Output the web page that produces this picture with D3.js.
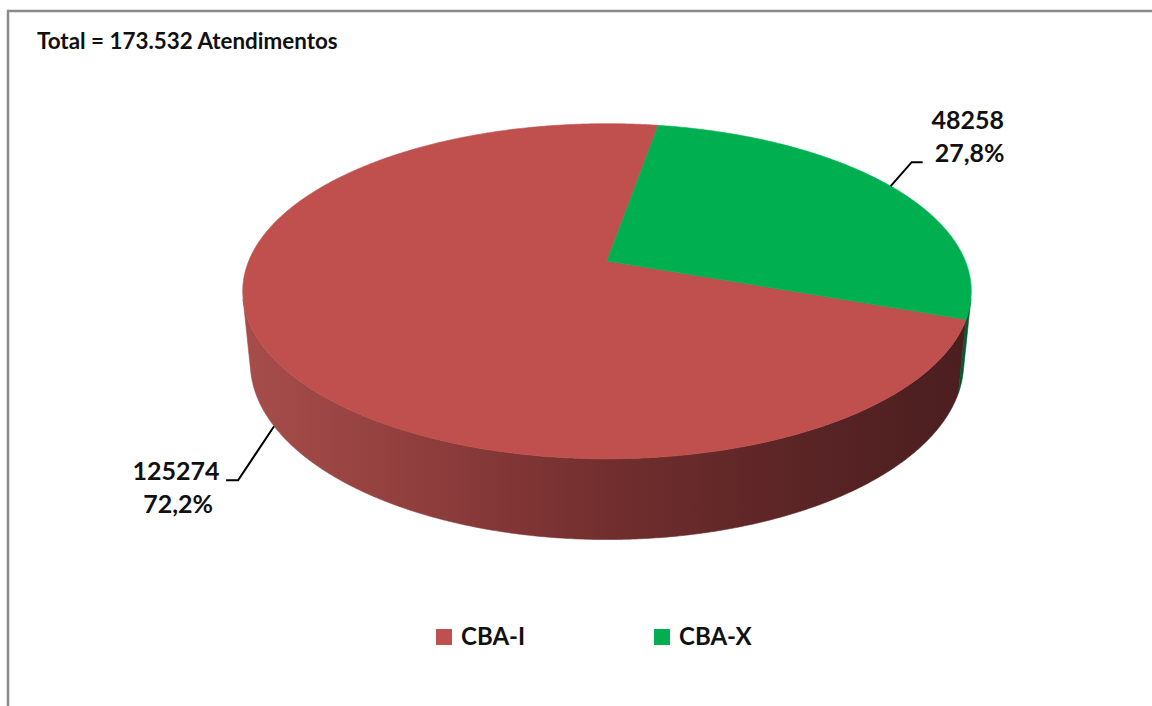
<!DOCTYPE html>
<html>
<head>
<meta charset="utf-8">
<script src="https://cdn.jsdelivr.net/npm/d3@7"></script>
<style>
  html, body { margin: 0; padding: 0; background: #fff; }
  svg { display: block; }
  text { font-family: Lato, "Open Sans", sans-serif; font-weight: bold; fill: #111; }
</style>
</head>
<body>
<svg id="chart" width="1152" height="706"></svg>
<script>
// Attendance totals per unit
const categories = ["CBA-I", "CBA-X"];
const values = [125274, 48258];
const percentLabels = ["72,2%", "27,8%"];
const sliceColors = ["#C0504D", "#00B050"];
const titleText = "Total = 173.532 Atendimentos";

const W = 1152, H = 706;
const svg = d3.select("#chart");
const deg = Math.PI / 180;

// Perspective camera for a tilted disc of radius 1 and thickness t
const cam = { cx: 607, cy: 261, f: 1770, D: 4.94, tilt: 26.9 * deg, t: 0.225 };
const S = Math.sin(cam.tilt), C = Math.cos(cam.tilt);
function proj(theta, z) {
  const x = Math.sin(theta), y = Math.cos(theta);
  const yc = z * C + y * S;
  const d = cam.D + y * C - z * S;
  return [cam.cx + cam.f * x / d, cam.cy - cam.f * yc / d];
}

const color = d3.scaleOrdinal().domain(categories).range(sliceColors);
const pie = d3.pie().sort(null).startAngle(109.8 * deg).endAngle(109.8 * deg + 2 * Math.PI);
const arcs = pie(values);

// frame
svg.append("rect").attr("x", 8).attr("y", 11).attr("width", W + 40).attr("height", H + 40)
  .attr("fill", "none").attr("stroke", "#8a8a8a").attr("stroke-width", 2.5);

svg.append("text").attr("x", 37).attr("y", 49).attr("font-size", 22.4).text(titleText);

// side-wall shading, dark towards the right
const defs = svg.append("defs");
const sideStops = {
  "CBA-I": [["0", "#a64d4b"], ["0.25", "#8e3d3c"], ["0.5", "#722e2e"], ["0.75", "#5c2526"], ["1", "#4b1e1f"]],
  "CBA-X": [["0", "#0a8a40"], ["0.6", "#06683a"], ["1", "#04572f"]]
};
categories.forEach((c, i) => {
  const g = defs.append("linearGradient").attr("id", "side" + i)
    .attr("gradientUnits", "userSpaceOnUse").attr("x1", 250).attr("x2", 965).attr("y1", 0).attr("y2", 0);
  sideStops[c].forEach(s => g.append("stop").attr("offset", s[0]).attr("stop-color", s[1]));
});

const pieG = svg.append("g");
const step = 0.4 * deg;
function sample(a0, a1) {
  const n = Math.max(2, Math.ceil((a1 - a0) / step));
  return d3.range(n + 1).map(k => a0 + (a1 - a0) * k / n);
}

// visible side range: generatrix faces the camera
const vHalf = Math.acos(-1 / (cam.D * C));
const visible = [[vHalf, 2 * Math.PI - vHalf], [vHalf + 2 * Math.PI, 4 * Math.PI - vHalf]];

arcs.forEach((a, i) => {
  visible.forEach(v => {
    const s0 = Math.max(a.startAngle, v[0]), s1 = Math.min(a.endAngle, v[1]);
    if (s1 <= s0) return;
    const angs = sample(s0, s1);
    const pts = angs.map(t => proj(t, 0)).concat(angs.slice().reverse().map(t => proj(t, -cam.t)));
    pieG.append("path").attr("d", d3.line()(pts) + "Z")
      .attr("fill", `url(#side${i})`).attr("stroke", `url(#side${i})`).attr("stroke-width", 0.6);
  });
});

arcs.forEach((a, i) => {
  const pts = [[cam.cx, cam.cy]].concat(sample(a.startAngle, a.endAngle).map(t => proj(t, 0)));
  pieG.append("path").attr("d", d3.line()(pts) + "Z")
    .attr("fill", color(categories[i])).attr("stroke", color(categories[i])).attr("stroke-width", 0.6);
});

// data labels with leader lines
const labelLayout = [
  { elbow: [-36, 54], end: -12, tx: -50, lines: [0, 33] },
  { elbow: [21, -24], end: 11, tx: 45, lines: [-33, 0] }
];
arcs.forEach((a, i) => {
  const mid = (a.startAngle + a.endAngle) / 2;
  const p0 = proj(mid, Math.cos(mid) < 0 ? -cam.t : 0);
  const L = labelLayout[i];
  const p1 = [p0[0] + L.elbow[0], p0[1] + L.elbow[1]];
  const p2 = [p1[0] + L.end, p1[1]];
  svg.append("path").attr("d", d3.line()([p0, p1, p2]))
    .attr("fill", "none").attr("stroke", "#000").attr("stroke-width", 2);
  const tx = p2[0] + L.tx;
  const t = svg.append("text").attr("text-anchor", "middle").attr("font-size", 25);
  t.append("tspan").attr("x", tx).attr("y", p2[1] + L.lines[0]).text(d3.format("d")(a.data));
  t.append("tspan").attr("x", tx + 2).attr("y", p2[1] + L.lines[1]).text(percentLabels[i]);
});

// legend
const legendX = [436, 654];
const lg = svg.append("g");
categories.forEach((c, i) => {
  lg.append("rect").attr("x", legendX[i]).attr("y", 629).attr("width", 16).attr("height", 16).attr("fill", color(c));
  lg.append("text").attr("x", legendX[i] + 25).attr("y", 645).attr("font-size", 24).text(c);
});
</script>
</body>
</html>
